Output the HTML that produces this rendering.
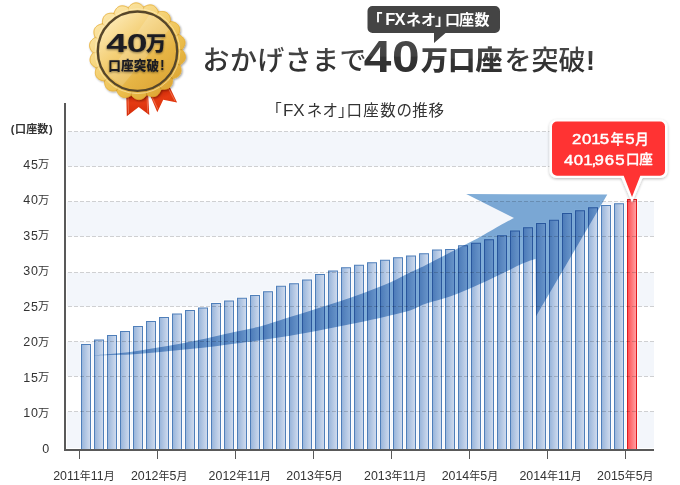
<!DOCTYPE html><html lang="ja"><head><meta charset="utf-8"><title>FXネオ 口座数の推移</title>
<style>html,body{margin:0;padding:0;background:#fff}body{width:680px;height:485px;overflow:hidden}svg{display:block}text{font-family:"Liberation Sans","Noto Sans CJK JP",sans-serif}</style></head><body>
<svg width="680" height="485" viewBox="0 0 680 485">
<defs>
<linearGradient id="bar" x1="0" x2="1" y1="0" y2="0"><stop offset="0" stop-color="#97b4da"/><stop offset="1" stop-color="#d1dcee"/></linearGradient>
<linearGradient id="rbar" x1="0" x2="1" y1="0" y2="0"><stop offset="0" stop-color="#ff4d50"/><stop offset="1" stop-color="#ffa3a6"/></linearGradient>
<linearGradient id="gold" x1="0.12" y1="0.08" x2="0.88" y2="0.95"><stop offset="0" stop-color="#fde9b0"/><stop offset="0.35" stop-color="#f6d57c"/><stop offset="0.7" stop-color="#eabb48"/><stop offset="1" stop-color="#d9a030"/></linearGradient>
<linearGradient id="gold2" x1="0.12" y1="0.08" x2="0.88" y2="0.95"><stop offset="0" stop-color="#fdebb8"/><stop offset="0.35" stop-color="#f4d078"/><stop offset="0.7" stop-color="#e6b444"/><stop offset="1" stop-color="#dca535"/></linearGradient>
<linearGradient id="rib" x1="0" x2="0" y1="0" y2="1"><stop offset="0" stop-color="#b81c00"/><stop offset="0.45" stop-color="#e43a12"/><stop offset="1" stop-color="#d42a08"/></linearGradient>
<linearGradient id="rib2" x1="0.2" x2="0.6" y1="0" y2="1"><stop offset="0" stop-color="#b81c00"/><stop offset="0.5" stop-color="#e43a12"/><stop offset="1" stop-color="#dc3209"/></linearGradient>
<clipPath id="mclip"><circle cx="137.5" cy="51.2" r="38.5"/></clipPath>
<filter id="msh" x="-20%" y="-20%" width="140%" height="150%"><feGaussianBlur in="SourceAlpha" stdDeviation="1.3"/><feOffset dx="0.5" dy="1.2"/><feComponentTransfer><feFuncA type="linear" slope="0.4"/></feComponentTransfer><feMerge><feMergeNode/><feMergeNode in="SourceGraphic"/></feMerge></filter>
<filter id="tsh" x="-10%" y="-20%" width="120%" height="150%"><feGaussianBlur in="SourceAlpha" stdDeviation="0.9"/><feOffset dx="0" dy="0.8"/><feComponentTransfer><feFuncA type="linear" slope="0.45"/></feComponentTransfer><feMerge><feMergeNode/><feMergeNode in="SourceGraphic"/></feMerge></filter>
<filter id="sh" x="-20%" y="-20%" width="140%" height="150%"><feGaussianBlur in="SourceAlpha" stdDeviation="1.5"/><feOffset dy="1"/><feComponentTransfer><feFuncA type="linear" slope="0.28"/></feComponentTransfer><feMerge><feMergeNode/><feMergeNode in="SourceGraphic"/></feMerge></filter>
<linearGradient id="hg" gradientUnits="userSpaceOnUse" x1="0" x2="0" y1="44" y2="73"><stop offset="0" stop-color="#474747"/><stop offset="0.47" stop-color="#424242"/><stop offset="0.53" stop-color="#333"/><stop offset="1" stop-color="#303030"/></linearGradient>
<linearGradient id="hg2" gradientUnits="userSpaceOnUse" x1="0" x2="0" y1="40" y2="72"><stop offset="0" stop-color="#484848"/><stop offset="0.5" stop-color="#424242"/><stop offset="0.54" stop-color="#333"/><stop offset="1" stop-color="#303030"/></linearGradient>
<linearGradient id="cre" gradientUnits="userSpaceOnUse" x1="95" y1="10" x2="180" y2="95"><stop offset="0" stop-color="#d9a030" stop-opacity="0.25"/><stop offset="1" stop-color="#a87410" stop-opacity="0.5"/></linearGradient>
</defs>
<rect x="67" y="131.5" width="587" height="35" fill="#f3f6fb"/>
<rect x="67" y="201.5" width="587" height="35" fill="#f3f6fb"/>
<rect x="67" y="272.5" width="587" height="34" fill="#f3f6fb"/>
<rect x="67" y="341.5" width="587" height="35" fill="#f3f6fb"/>
<rect x="67" y="411.5" width="587" height="36.5" fill="#f3f6fb"/>
<rect x="80" y="343" width="12" height="106" fill="#fff" fill-opacity="0.6"/>
<rect x="81.5" y="344.5" width="9" height="105" fill="url(#bar)" stroke="#4f7fba" stroke-width="1"/>
<rect x="93" y="338.5" width="12" height="110.5" fill="#fff" fill-opacity="0.6"/>
<rect x="94.5" y="340" width="9" height="109.5" fill="url(#bar)" stroke="#4f7fba" stroke-width="1"/>
<rect x="106" y="334" width="12" height="115" fill="#fff" fill-opacity="0.6"/>
<rect x="107.5" y="335.5" width="9" height="114" fill="url(#bar)" stroke="#4f7fba" stroke-width="1"/>
<rect x="119" y="330" width="12" height="119" fill="#fff" fill-opacity="0.6"/>
<rect x="120.5" y="331.5" width="9" height="118" fill="url(#bar)" stroke="#4f7fba" stroke-width="1"/>
<rect x="132" y="325" width="12" height="124" fill="#fff" fill-opacity="0.6"/>
<rect x="133.5" y="326.5" width="9" height="123" fill="url(#bar)" stroke="#4f7fba" stroke-width="1"/>
<rect x="145" y="320" width="12" height="129" fill="#fff" fill-opacity="0.6"/>
<rect x="146.5" y="321.5" width="9" height="128" fill="url(#bar)" stroke="#4f7fba" stroke-width="1"/>
<rect x="158" y="316" width="12" height="133" fill="#fff" fill-opacity="0.6"/>
<rect x="159.5" y="317.5" width="9" height="132" fill="url(#bar)" stroke="#4f7fba" stroke-width="1"/>
<rect x="171" y="312.5" width="12" height="136.5" fill="#fff" fill-opacity="0.6"/>
<rect x="172.5" y="314" width="9" height="135.5" fill="url(#bar)" stroke="#4f7fba" stroke-width="1"/>
<rect x="184" y="309" width="12" height="140" fill="#fff" fill-opacity="0.6"/>
<rect x="185.5" y="310.5" width="9" height="139" fill="url(#bar)" stroke="#4f7fba" stroke-width="1"/>
<rect x="197" y="306.5" width="12" height="142.5" fill="#fff" fill-opacity="0.6"/>
<rect x="198.5" y="308" width="9" height="141.5" fill="url(#bar)" stroke="#4f7fba" stroke-width="1"/>
<rect x="210" y="302" width="12" height="147" fill="#fff" fill-opacity="0.6"/>
<rect x="211.5" y="303.5" width="9" height="146" fill="url(#bar)" stroke="#4f7fba" stroke-width="1"/>
<rect x="223" y="299.5" width="12" height="149.5" fill="#fff" fill-opacity="0.6"/>
<rect x="224.5" y="301" width="9" height="148.5" fill="url(#bar)" stroke="#4f7fba" stroke-width="1"/>
<rect x="236" y="296.75" width="12" height="152.25" fill="#fff" fill-opacity="0.6"/>
<rect x="237.5" y="298.25" width="9" height="151.25" fill="url(#bar)" stroke="#4f7fba" stroke-width="1"/>
<rect x="249" y="294" width="12" height="155" fill="#fff" fill-opacity="0.6"/>
<rect x="250.5" y="295.5" width="9" height="154" fill="url(#bar)" stroke="#4f7fba" stroke-width="1"/>
<rect x="262" y="290.25" width="12" height="158.75" fill="#fff" fill-opacity="0.6"/>
<rect x="263.5" y="291.75" width="9" height="157.75" fill="url(#bar)" stroke="#4f7fba" stroke-width="1"/>
<rect x="275" y="284.75" width="12" height="164.25" fill="#fff" fill-opacity="0.6"/>
<rect x="276.5" y="286.25" width="9" height="163.25" fill="url(#bar)" stroke="#4f7fba" stroke-width="1"/>
<rect x="288" y="282.25" width="12" height="166.75" fill="#fff" fill-opacity="0.6"/>
<rect x="289.5" y="283.75" width="9" height="165.75" fill="url(#bar)" stroke="#4f7fba" stroke-width="1"/>
<rect x="301" y="278.5" width="12" height="170.5" fill="#fff" fill-opacity="0.6"/>
<rect x="302.5" y="280" width="9" height="169.5" fill="url(#bar)" stroke="#4f7fba" stroke-width="1"/>
<rect x="314" y="273" width="12" height="176" fill="#fff" fill-opacity="0.6"/>
<rect x="315.5" y="274.5" width="9" height="175" fill="url(#bar)" stroke="#4f7fba" stroke-width="1"/>
<rect x="327" y="269.5" width="12" height="179.5" fill="#fff" fill-opacity="0.6"/>
<rect x="328.5" y="271" width="9" height="178.5" fill="url(#bar)" stroke="#4f7fba" stroke-width="1"/>
<rect x="340" y="266.25" width="12" height="182.75" fill="#fff" fill-opacity="0.6"/>
<rect x="341.5" y="267.75" width="9" height="181.75" fill="url(#bar)" stroke="#4f7fba" stroke-width="1"/>
<rect x="353" y="263.75" width="12" height="185.25" fill="#fff" fill-opacity="0.6"/>
<rect x="354.5" y="265.25" width="9" height="184.25" fill="url(#bar)" stroke="#4f7fba" stroke-width="1"/>
<rect x="366" y="261.25" width="12" height="187.75" fill="#fff" fill-opacity="0.6"/>
<rect x="367.5" y="262.75" width="9" height="186.75" fill="url(#bar)" stroke="#4f7fba" stroke-width="1"/>
<rect x="379" y="258.75" width="12" height="190.25" fill="#fff" fill-opacity="0.6"/>
<rect x="380.5" y="260.25" width="9" height="189.25" fill="url(#bar)" stroke="#4f7fba" stroke-width="1"/>
<rect x="392" y="256.25" width="12" height="192.75" fill="#fff" fill-opacity="0.6"/>
<rect x="393.5" y="257.75" width="9" height="191.75" fill="url(#bar)" stroke="#4f7fba" stroke-width="1"/>
<rect x="405" y="254.5" width="12" height="194.5" fill="#fff" fill-opacity="0.6"/>
<rect x="406.5" y="256" width="9" height="193.5" fill="url(#bar)" stroke="#4f7fba" stroke-width="1"/>
<rect x="418" y="252.25" width="12" height="196.75" fill="#fff" fill-opacity="0.6"/>
<rect x="419.5" y="253.75" width="9" height="195.75" fill="url(#bar)" stroke="#4f7fba" stroke-width="1"/>
<rect x="431" y="248.5" width="12" height="200.5" fill="#fff" fill-opacity="0.6"/>
<rect x="432.5" y="250" width="9" height="199.5" fill="url(#bar)" stroke="#4f7fba" stroke-width="1"/>
<rect x="444" y="248" width="12" height="201" fill="#fff" fill-opacity="0.6"/>
<rect x="445.5" y="249.5" width="9" height="200" fill="url(#bar)" stroke="#4f7fba" stroke-width="1"/>
<rect x="457" y="244.25" width="12" height="204.75" fill="#fff" fill-opacity="0.6"/>
<rect x="458.5" y="245.75" width="9" height="203.75" fill="url(#bar)" stroke="#4f7fba" stroke-width="1"/>
<rect x="470" y="241.75" width="12" height="207.25" fill="#fff" fill-opacity="0.6"/>
<rect x="471.5" y="243.25" width="9" height="206.25" fill="url(#bar)" stroke="#4f7fba" stroke-width="1"/>
<rect x="483" y="238.25" width="12" height="210.75" fill="#fff" fill-opacity="0.6"/>
<rect x="484.5" y="239.75" width="9" height="209.75" fill="url(#bar)" stroke="#4f7fba" stroke-width="1"/>
<rect x="496" y="234.25" width="12" height="214.75" fill="#fff" fill-opacity="0.6"/>
<rect x="497.5" y="235.75" width="9" height="213.75" fill="url(#bar)" stroke="#4f7fba" stroke-width="1"/>
<rect x="509" y="229.5" width="12" height="219.5" fill="#fff" fill-opacity="0.6"/>
<rect x="510.5" y="231" width="9" height="218.5" fill="url(#bar)" stroke="#4f7fba" stroke-width="1"/>
<rect x="522" y="226.25" width="12" height="222.75" fill="#fff" fill-opacity="0.6"/>
<rect x="523.5" y="227.75" width="9" height="221.75" fill="url(#bar)" stroke="#4f7fba" stroke-width="1"/>
<rect x="535" y="222" width="12" height="227" fill="#fff" fill-opacity="0.6"/>
<rect x="536.5" y="223.5" width="9" height="226" fill="url(#bar)" stroke="#4f7fba" stroke-width="1"/>
<rect x="548" y="218.75" width="12" height="230.25" fill="#fff" fill-opacity="0.6"/>
<rect x="549.5" y="220.25" width="9" height="229.25" fill="url(#bar)" stroke="#4f7fba" stroke-width="1"/>
<rect x="561" y="212" width="12" height="237" fill="#fff" fill-opacity="0.6"/>
<rect x="562.5" y="213.5" width="9" height="236" fill="url(#bar)" stroke="#4f7fba" stroke-width="1"/>
<rect x="574" y="209.25" width="12" height="239.75" fill="#fff" fill-opacity="0.6"/>
<rect x="575.5" y="210.75" width="9" height="238.75" fill="url(#bar)" stroke="#4f7fba" stroke-width="1"/>
<rect x="587" y="206.25" width="12" height="242.75" fill="#fff" fill-opacity="0.6"/>
<rect x="588.5" y="207.75" width="9" height="241.75" fill="url(#bar)" stroke="#4f7fba" stroke-width="1"/>
<rect x="600" y="204" width="12" height="245" fill="#fff" fill-opacity="0.6"/>
<rect x="601.5" y="205.5" width="9" height="244" fill="url(#bar)" stroke="#4f7fba" stroke-width="1"/>
<rect x="613" y="202.25" width="12" height="246.75" fill="#fff" fill-opacity="0.6"/>
<rect x="614.5" y="203.75" width="9" height="245.75" fill="url(#bar)" stroke="#4f7fba" stroke-width="1"/>
<rect x="626" y="198" width="12" height="251" fill="#fff" fill-opacity="0.6"/>
<rect x="627.5" y="199.5" width="9" height="250" fill="url(#rbar)" stroke="#e0191e" stroke-width="1"/>
<line x1="68" x2="654" y1="131.5" y2="131.5" stroke="#000" stroke-opacity="0.17" stroke-width="1" stroke-dasharray="4 2"/>
<line x1="68" x2="654" y1="166.5" y2="166.5" stroke="#000" stroke-opacity="0.17" stroke-width="1" stroke-dasharray="4 2"/>
<line x1="68" x2="654" y1="201.5" y2="201.5" stroke="#000" stroke-opacity="0.17" stroke-width="1" stroke-dasharray="4 2"/>
<line x1="68" x2="654" y1="236.5" y2="236.5" stroke="#000" stroke-opacity="0.17" stroke-width="1" stroke-dasharray="4 2"/>
<line x1="68" x2="654" y1="272.5" y2="272.5" stroke="#000" stroke-opacity="0.17" stroke-width="1" stroke-dasharray="4 2"/>
<line x1="68" x2="654" y1="306.5" y2="306.5" stroke="#000" stroke-opacity="0.17" stroke-width="1" stroke-dasharray="4 2"/>
<line x1="68" x2="654" y1="341.5" y2="341.5" stroke="#000" stroke-opacity="0.17" stroke-width="1" stroke-dasharray="4 2"/>
<line x1="68" x2="654" y1="376.5" y2="376.5" stroke="#000" stroke-opacity="0.17" stroke-width="1" stroke-dasharray="4 2"/>
<line x1="68" x2="654" y1="411.5" y2="411.5" stroke="#000" stroke-opacity="0.17" stroke-width="1" stroke-dasharray="4 2"/>
<path d="M93.8,355.5 C99.8,354.9 119.8,353.2 130.0,352.0 C140.2,350.8 146.7,349.4 155.0,348.0 C163.3,346.6 171.7,345.3 180.0,343.8 C188.3,342.2 196.7,340.5 205.0,338.8 C213.3,337.0 222.5,334.7 230.0,333.0 C237.5,331.3 244.2,330.1 250.0,328.8 C255.8,327.4 258.3,327.0 265.0,325.0 C271.7,323.0 281.7,319.6 290.0,317.0 C298.3,314.4 306.7,311.9 315.0,309.2 C323.3,306.6 331.7,304.0 340.0,301.2 C348.3,298.5 356.7,295.6 365.0,292.5 C373.3,289.4 382.5,285.8 390.0,282.5 C397.5,279.2 404.2,275.3 410.0,272.5 C415.8,269.7 418.3,268.8 425.0,265.5 C431.7,262.2 441.8,256.8 450.0,252.6 C458.2,248.4 466.1,244.5 474.3,240.1 C482.5,235.7 492.4,229.7 499.0,226.0 C505.6,222.3 511.5,219.3 514.0,218.0 L466.2,194 L607.3,194.5 L536,316.3 L535.5,259.0 C533.5,259.7 529.9,260.4 523.8,263.1 C517.7,265.8 507.2,271.1 499.0,275.0 C490.8,278.9 482.5,283.0 474.3,286.6 C466.1,290.2 458.2,293.7 450.0,296.6 C441.8,299.5 431.7,301.7 425.0,304.0 C418.3,306.3 415.8,308.6 410.0,310.5 C404.2,312.4 397.5,313.7 390.0,315.5 C382.5,317.3 373.3,319.5 365.0,321.2 C356.7,323.0 348.3,324.6 340.0,326.2 C331.7,327.9 323.3,329.7 315.0,331.2 C306.7,332.8 298.3,334.4 290.0,335.8 C281.7,337.1 271.7,338.5 265.0,339.5 C258.3,340.5 255.8,341.0 250.0,341.8 C244.2,342.5 237.5,343.3 230.0,344.2 C222.5,345.2 213.3,346.5 205.0,347.5 C196.7,348.5 188.3,349.2 180.0,350.0 C171.7,350.8 163.3,351.8 155.0,352.5 C146.7,353.2 140.2,354.0 130.0,354.5 C119.8,355.0 99.8,355.3 93.8,355.5Z" fill="#80add8" style="mix-blend-mode:multiply"/>
<rect x="64" y="103" width="2" height="348" fill="#595959"/>
<rect x="64" y="449" width="590" height="2" fill="#595959"/>
<rect x="79" y="451" width="1" height="8" fill="#595959"/>
<rect x="157" y="451" width="1" height="8" fill="#595959"/>
<rect x="235" y="451" width="1" height="8" fill="#595959"/>
<rect x="313" y="451" width="1" height="8" fill="#595959"/>
<rect x="391" y="451" width="1" height="8" fill="#595959"/>
<rect x="469" y="451" width="1" height="8" fill="#595959"/>
<rect x="547" y="451" width="1" height="8" fill="#595959"/>
<rect x="625" y="451" width="1" height="8" fill="#595959"/>
<text x="53.2" y="480" font-size="12.4" fill="#333">2011<tspan font-size="11" dy="-0.3">年</tspan><tspan dy="0.3">11</tspan><tspan font-size="11" dy="-0.3">月</tspan></text>
<text x="130.9" y="480" font-size="12.4" fill="#333">2012<tspan font-size="11" dy="-0.3">年</tspan><tspan dy="0.3">5</tspan><tspan font-size="11" dy="-0.3">月</tspan></text>
<text x="208.6" y="480" font-size="12.4" fill="#333">2012<tspan font-size="11" dy="-0.3">年</tspan><tspan dy="0.3">11</tspan><tspan font-size="11" dy="-0.3">月</tspan></text>
<text x="286.3" y="480" font-size="12.4" fill="#333">2013<tspan font-size="11" dy="-0.3">年</tspan><tspan dy="0.3">5</tspan><tspan font-size="11" dy="-0.3">月</tspan></text>
<text x="364" y="480" font-size="12.4" fill="#333">2013<tspan font-size="11" dy="-0.3">年</tspan><tspan dy="0.3">11</tspan><tspan font-size="11" dy="-0.3">月</tspan></text>
<text x="441.7" y="480" font-size="12.4" fill="#333">2014<tspan font-size="11" dy="-0.3">年</tspan><tspan dy="0.3">5</tspan><tspan font-size="11" dy="-0.3">月</tspan></text>
<text x="519.4" y="480" font-size="12.4" fill="#333">2014<tspan font-size="11" dy="-0.3">年</tspan><tspan dy="0.3">11</tspan><tspan font-size="11" dy="-0.3">月</tspan></text>
<text x="597.1" y="480" font-size="12.4" fill="#333">2015<tspan font-size="11" dy="-0.3">年</tspan><tspan dy="0.3">5</tspan><tspan font-size="11" dy="-0.3">月</tspan></text>
<text x="23.2 30.9" y="168.5" font-size="12.5" fill="#333">45<tspan x="38" dy="-0.3" font-size="11.3">万</tspan></text>
<text x="23.2 30.9" y="204" font-size="12.5" fill="#333">40<tspan x="38" dy="-0.3" font-size="11.3">万</tspan></text>
<text x="23.2 30.9" y="239.5" font-size="12.5" fill="#333">35<tspan x="38" dy="-0.3" font-size="11.3">万</tspan></text>
<text x="23.2 30.9" y="275" font-size="12.5" fill="#333">30<tspan x="38" dy="-0.3" font-size="11.3">万</tspan></text>
<text x="23.2 30.9" y="310.5" font-size="12.5" fill="#333">25<tspan x="38" dy="-0.3" font-size="11.3">万</tspan></text>
<text x="23.2 30.9" y="346" font-size="12.5" fill="#333">20<tspan x="38" dy="-0.3" font-size="11.3">万</tspan></text>
<text x="23.2 30.9" y="381.5" font-size="12.5" fill="#333">15<tspan x="38" dy="-0.3" font-size="11.3">万</tspan></text>
<text x="23.2 30.9" y="417" font-size="12.5" fill="#333">10<tspan x="38" dy="-0.3" font-size="11.3">万</tspan></text>
<text x="49.3" y="453" font-size="12.5" fill="#333" text-anchor="end">0</text>
<text x="10.8 15 26.3 37.2 49" y="133" font-size="11" font-weight="700" fill="#333">(口座数)</text>
<text y="116" x="266.3 283.1 293.3 306.7 322.5 338 346.5 363.3 380.2 396.5 412.3 428.5" font-size="15.5" fill="#333">「<tspan font-size="17">FX</tspan>ネオ」口座数の推移</text>
<text x="202.5" y="69.5" font-size="27" font-weight="500" fill="url(#hg)" letter-spacing="0.4">おかげさまで</text>
<text transform="scale(1.14,1)" x="319.12 343.77" y="72" font-size="43.5" font-weight="700" fill="url(#hg2)">40</text>
<text x="421" y="69.5" font-size="27" font-weight="900" fill="url(#hg)" letter-spacing="0.2">万口座</text>
<text x="504.5" y="69.5" font-size="27" font-weight="500" fill="url(#hg)" letter-spacing="0">を突破<tspan font-weight="700" dx="0.5">!</tspan></text>
<path d="M372.5,6 H495 a5,5 0 0 1 5,5 V28 a5,5 0 0 1 -5,5 H445.5 L434,43 V33 H372.5 a5,5 0 0 1 -5,-5 V11 a5,5 0 0 1 5,-5 Z" fill="#444"/>
<text y="25" x="367.5 385.2 394.4 406 421 435 445 459 474.5" font-size="15" font-weight="700" fill="#fff">「<tspan font-size="16.5">FX</tspan>ネオ」口座数</text>
<g filter="url(#sh)"><path d="M556.5,119.5 H660.5 a7,7 0 0 1 7,7 V171 a7,7 0 0 1 -7,7 H642.5 L632,202.5 L621.5,178 H556.5 a7,7 0 0 1 -7,-7 V126.5 a7,7 0 0 1 7,-7 Z" fill="#fff"/></g>
<path d="M557,121.5 H660 a5,5 0 0 1 5,5 V170.7 a5,5 0 0 1 -5,5 H640.3 L632,197 L623.7,175.7 H557 a5,5 0 0 1 -5,-5 V126.5 a5,5 0 0 1 5,-5 Z" fill="#ff3333"/>
<g font-weight="400" fill="#fff" stroke="#fff" stroke-width="0.45" stroke-linejoin="round">
<text transform="scale(1.2,1)" y="144.4" x="476.67 485.08 492.67 499.75" font-size="14">2015</text>
<text y="144" x="610.4" font-size="13.5" font-weight="500" stroke-width="0.3">年</text>
<text transform="scale(1.2,1)" y="144.4" x="521.08" font-size="14">5</text>
<text y="144" x="635.2" font-size="13.5" font-weight="500" stroke-width="0.3">月</text>
<text transform="scale(1.2,1)" y="164.6" x="469.92 478.17 486.00 492.92 495.50 503.92 512.67" font-size="14">401,965</text>
<text y="164.2" x="625.9 639.3" font-size="13.5" font-weight="500" stroke-width="0.3">口座</text>
</g>
<path d="M126.2,92 L148,92 L149.3,115 L138.7,107 L126.8,116.2 Z" fill="url(#rib)"/>
<path d="M128,96 L128.5,113.5 M147,96 L147.8,112.5" stroke="#ffb59a" stroke-opacity="0.75" stroke-width="0.6" fill="none"/>
<path d="M150,95 L169.2,86 L177.1,102.6 L163.2,99.7 L157.3,112.3 Z" fill="url(#rib2)"/>
<path d="M152.3,97.5 L158,109.5 M168.5,88.5 L175,101" stroke="#ffb59a" stroke-opacity="0.75" stroke-width="0.6" fill="none"/>
<g filter="url(#msh)"><path d="M183.29,51.20 L183.58,51.60 L183.86,52.01 L184.11,52.42 L184.35,52.84 L184.57,53.26 L184.76,53.68 L184.94,54.10 L185.09,54.53 L185.22,54.96 L185.32,55.38 L185.40,55.81 L185.46,56.24 L185.49,56.67 L185.50,57.09 L185.47,57.52 L185.43,57.94 L185.36,58.35 L185.26,58.76 L185.14,59.17 L184.99,59.57 L184.82,59.97 L184.62,60.36 L184.40,60.74 L184.16,61.12 L183.90,61.49 L183.62,61.85 L183.31,62.20 L182.99,62.54 L182.64,62.88 L182.29,63.20 L181.91,63.52 L181.52,63.82 L181.11,64.12 L180.68,64.40 L180.23,64.67 L179.73,64.92 L179.99,65.42 L180.19,65.90 L180.37,66.38 L180.53,66.86 L180.67,67.34 L180.79,67.82 L180.89,68.29 L180.97,68.76 L181.03,69.23 L181.07,69.69 L181.08,70.15 L181.08,70.60 L181.06,71.05 L181.01,71.49 L180.94,71.92 L180.84,72.34 L180.73,72.75 L180.59,73.15 L180.42,73.54 L180.23,73.92 L180.02,74.29 L179.79,74.64 L179.54,74.98 L179.26,75.31 L178.97,75.63 L178.65,75.92 L178.31,76.21 L177.96,76.48 L177.58,76.74 L177.19,76.98 L176.79,77.20 L176.36,77.41 L175.93,77.61 L175.48,77.79 L175.02,77.96 L174.54,78.11 L174.06,78.25 L173.56,78.37 L173.05,78.48 L172.49,78.54 L172.56,79.09 L172.59,79.62 L172.59,80.13 L172.58,80.63 L172.54,81.13 L172.49,81.62 L172.42,82.10 L172.34,82.57 L172.23,83.03 L172.11,83.48 L171.97,83.91 L171.82,84.34 L171.64,84.75 L171.44,85.14 L171.23,85.53 L171.00,85.89 L170.75,86.24 L170.48,86.57 L170.19,86.88 L169.89,87.17 L169.56,87.44 L169.22,87.69 L168.87,87.93 L168.50,88.14 L168.11,88.33 L167.71,88.51 L167.30,88.66 L166.87,88.79 L166.43,88.90 L165.98,89.00 L165.52,89.07 L165.06,89.13 L164.58,89.16 L164.09,89.18 L163.60,89.18 L163.11,89.16 L162.60,89.13 L162.09,89.07 L161.57,88.99 L161.03,88.85 L160.91,89.40 L160.76,89.90 L160.58,90.39 L160.40,90.86 L160.19,91.31 L159.98,91.75 L159.75,92.18 L159.51,92.59 L159.25,92.99 L158.99,93.37 L158.71,93.73 L158.41,94.08 L158.11,94.40 L157.79,94.71 L157.46,94.99 L157.11,95.25 L156.76,95.49 L156.39,95.71 L156.02,95.91 L155.63,96.08 L155.23,96.22 L154.83,96.34 L154.42,96.44 L153.99,96.52 L153.56,96.56 L153.13,96.59 L152.69,96.59 L152.24,96.57 L151.79,96.53 L151.34,96.46 L150.88,96.37 L150.42,96.26 L149.96,96.13 L149.50,95.99 L149.04,95.82 L148.58,95.63 L148.12,95.42 L147.66,95.20 L147.20,94.94 L146.73,94.63 L146.43,95.11 L146.12,95.52 L145.79,95.92 L145.45,96.29 L145.11,96.65 L144.75,96.99 L144.39,97.32 L144.02,97.62 L143.65,97.91 L143.27,98.18 L142.88,98.42 L142.49,98.64 L142.09,98.85 L141.68,99.02 L141.28,99.18 L140.86,99.31 L140.45,99.41 L140.03,99.49 L139.61,99.54 L139.19,99.57 L138.77,99.57 L138.34,99.55 L137.92,99.50 L137.50,99.42 L137.08,99.32 L136.66,99.20 L136.25,99.05 L135.84,98.88 L135.43,98.68 L135.02,98.46 L134.62,98.22 L134.23,97.97 L133.84,97.69 L133.46,97.39 L133.08,97.07 L132.71,96.74 L132.35,96.39 L132.00,96.02 L131.65,95.62 L131.32,95.17 L130.88,95.51 L130.44,95.80 L129.99,96.06 L129.55,96.29 L129.10,96.51 L128.65,96.71 L128.20,96.89 L127.75,97.06 L127.30,97.20 L126.85,97.32 L126.41,97.41 L125.96,97.49 L125.52,97.54 L125.08,97.57 L124.64,97.57 L124.21,97.56 L123.78,97.51 L123.36,97.44 L122.95,97.35 L122.54,97.23 L122.15,97.09 L121.76,96.92 L121.38,96.73 L121.01,96.52 L120.65,96.28 L120.30,96.02 L119.96,95.73 L119.63,95.43 L119.31,95.11 L119.01,94.77 L118.71,94.40 L118.43,94.03 L118.16,93.63 L117.91,93.22 L117.66,92.80 L117.43,92.36 L117.21,91.90 L117.00,91.43 L116.81,90.94 L116.66,90.40 L116.12,90.58 L115.61,90.69 L115.10,90.78 L114.60,90.86 L114.11,90.91 L113.62,90.94 L113.14,90.96 L112.66,90.96 L112.19,90.93 L111.72,90.89 L111.27,90.83 L110.82,90.75 L110.39,90.65 L109.97,90.52 L109.55,90.38 L109.16,90.21 L108.77,90.03 L108.40,89.82 L108.04,89.59 L107.70,89.34 L107.38,89.07 L107.07,88.78 L106.78,88.47 L106.50,88.14 L106.25,87.79 L106.01,87.43 L105.78,87.05 L105.58,86.65 L105.39,86.24 L105.22,85.81 L105.07,85.37 L104.93,84.92 L104.82,84.46 L104.71,83.99 L104.63,83.50 L104.56,83.01 L104.51,82.51 L104.48,81.99 L104.47,81.47 L104.50,80.91 L103.94,80.89 L103.42,80.82 L102.92,80.74 L102.42,80.63 L101.94,80.51 L101.47,80.38 L101.01,80.23 L100.56,80.06 L100.12,79.88 L99.70,79.68 L99.30,79.47 L98.91,79.24 L98.53,79.00 L98.18,78.73 L97.84,78.46 L97.52,78.17 L97.22,77.86 L96.95,77.54 L96.69,77.20 L96.45,76.85 L96.24,76.48 L96.05,76.11 L95.88,75.71 L95.74,75.31 L95.61,74.90 L95.51,74.47 L95.44,74.04 L95.38,73.60 L95.34,73.15 L95.33,72.69 L95.34,72.22 L95.37,71.75 L95.41,71.27 L95.48,70.79 L95.56,70.31 L95.67,69.82 L95.79,69.34 L95.94,68.84 L96.11,68.35 L96.33,67.83 L95.81,67.62 L95.35,67.38 L94.90,67.13 L94.47,66.86 L94.06,66.58 L93.66,66.30 L93.28,66.00 L92.91,65.69 L92.57,65.37 L92.24,65.04 L91.93,64.70 L91.64,64.35 L91.38,63.99 L91.13,63.62 L90.91,63.25 L90.71,62.87 L90.53,62.48 L90.38,62.08 L90.26,61.67 L90.16,61.26 L90.08,60.85 L90.03,60.43 L90.01,60.00 L90.01,59.57 L90.04,59.14 L90.09,58.71 L90.16,58.27 L90.26,57.84 L90.38,57.40 L90.52,56.97 L90.69,56.53 L90.88,56.10 L91.08,55.67 L91.31,55.24 L91.56,54.82 L91.82,54.39 L92.10,53.98 L92.41,53.56 L92.74,53.15 L93.13,52.75 L92.71,52.37 L92.35,51.99 L92.02,51.60 L91.71,51.20 L91.42,50.80 L91.14,50.39 L90.89,49.98 L90.65,49.56 L90.43,49.14 L90.24,48.72 L90.06,48.30 L89.91,47.87 L89.78,47.44 L89.68,47.02 L89.60,46.59 L89.54,46.16 L89.51,45.73 L89.50,45.31 L89.53,44.88 L89.57,44.46 L89.64,44.05 L89.74,43.64 L89.86,43.23 L90.01,42.83 L90.18,42.43 L90.38,42.04 L90.60,41.66 L90.84,41.28 L91.10,40.91 L91.38,40.55 L91.69,40.20 L92.01,39.86 L92.36,39.52 L92.71,39.20 L93.09,38.88 L93.48,38.58 L93.89,38.28 L94.32,38.00 L94.77,37.73 L95.27,37.48 L95.01,36.98 L94.81,36.50 L94.63,36.02 L94.47,35.54 L94.33,35.06 L94.21,34.58 L94.11,34.11 L94.03,33.64 L93.97,33.17 L93.93,32.71 L93.92,32.25 L93.92,31.80 L93.94,31.35 L93.99,30.91 L94.06,30.48 L94.16,30.06 L94.27,29.65 L94.41,29.25 L94.58,28.86 L94.77,28.48 L94.98,28.11 L95.21,27.76 L95.46,27.42 L95.74,27.09 L96.03,26.77 L96.35,26.48 L96.69,26.19 L97.04,25.92 L97.42,25.66 L97.81,25.42 L98.21,25.20 L98.64,24.99 L99.07,24.79 L99.52,24.61 L99.98,24.44 L100.46,24.29 L100.94,24.15 L101.44,24.03 L101.95,23.92 L102.51,23.86 L102.44,23.31 L102.41,22.78 L102.41,22.27 L102.42,21.77 L102.46,21.27 L102.51,20.78 L102.58,20.30 L102.66,19.83 L102.77,19.37 L102.89,18.92 L103.03,18.49 L103.18,18.06 L103.36,17.65 L103.56,17.26 L103.77,16.87 L104.00,16.51 L104.25,16.16 L104.52,15.83 L104.81,15.52 L105.11,15.23 L105.44,14.96 L105.78,14.71 L106.13,14.47 L106.50,14.26 L106.89,14.07 L107.29,13.89 L107.70,13.74 L108.13,13.61 L108.57,13.50 L109.02,13.40 L109.48,13.33 L109.94,13.27 L110.42,13.24 L110.91,13.22 L111.40,13.22 L111.89,13.24 L112.40,13.27 L112.91,13.33 L113.43,13.41 L113.97,13.55 L114.09,13.00 L114.24,12.50 L114.42,12.01 L114.60,11.54 L114.81,11.09 L115.02,10.65 L115.25,10.22 L115.49,9.81 L115.75,9.41 L116.01,9.03 L116.29,8.67 L116.59,8.32 L116.89,8.00 L117.21,7.69 L117.54,7.41 L117.89,7.15 L118.24,6.91 L118.61,6.69 L118.98,6.49 L119.37,6.32 L119.77,6.18 L120.17,6.06 L120.58,5.96 L121.01,5.88 L121.44,5.84 L121.87,5.81 L122.31,5.81 L122.76,5.83 L123.21,5.87 L123.66,5.94 L124.12,6.03 L124.58,6.14 L125.04,6.27 L125.50,6.41 L125.96,6.58 L126.42,6.77 L126.88,6.98 L127.34,7.20 L127.80,7.46 L128.27,7.77 L128.57,7.29 L128.88,6.88 L129.21,6.48 L129.55,6.11 L129.89,5.75 L130.25,5.41 L130.61,5.08 L130.98,4.78 L131.35,4.49 L131.73,4.22 L132.12,3.98 L132.51,3.76 L132.91,3.55 L133.32,3.38 L133.72,3.22 L134.14,3.09 L134.55,2.99 L134.97,2.91 L135.39,2.86 L135.81,2.83 L136.23,2.83 L136.66,2.85 L137.08,2.90 L137.50,2.98 L137.92,3.08 L138.34,3.20 L138.75,3.35 L139.16,3.52 L139.57,3.72 L139.98,3.94 L140.38,4.18 L140.77,4.43 L141.16,4.71 L141.54,5.01 L141.92,5.33 L142.29,5.66 L142.65,6.01 L143.00,6.38 L143.35,6.78 L143.68,7.23 L144.12,6.89 L144.56,6.60 L145.01,6.34 L145.45,6.11 L145.90,5.89 L146.35,5.69 L146.80,5.51 L147.25,5.34 L147.70,5.20 L148.15,5.08 L148.59,4.99 L149.04,4.91 L149.48,4.86 L149.92,4.83 L150.36,4.83 L150.79,4.84 L151.22,4.89 L151.64,4.96 L152.05,5.05 L152.46,5.17 L152.85,5.31 L153.24,5.48 L153.62,5.67 L153.99,5.88 L154.35,6.12 L154.70,6.38 L155.04,6.67 L155.37,6.97 L155.69,7.29 L155.99,7.63 L156.29,8.00 L156.57,8.37 L156.84,8.77 L157.09,9.18 L157.34,9.60 L157.57,10.04 L157.79,10.50 L158.00,10.97 L158.19,11.46 L158.34,12.00 L158.88,11.82 L159.39,11.71 L159.90,11.62 L160.40,11.54 L160.89,11.49 L161.38,11.46 L161.86,11.44 L162.34,11.44 L162.81,11.47 L163.28,11.51 L163.73,11.57 L164.18,11.65 L164.61,11.75 L165.03,11.88 L165.45,12.02 L165.84,12.19 L166.23,12.37 L166.60,12.58 L166.96,12.81 L167.30,13.06 L167.62,13.33 L167.93,13.62 L168.22,13.93 L168.50,14.26 L168.75,14.61 L168.99,14.97 L169.22,15.35 L169.42,15.75 L169.61,16.16 L169.78,16.59 L169.93,17.03 L170.07,17.48 L170.18,17.94 L170.29,18.41 L170.37,18.90 L170.44,19.39 L170.49,19.89 L170.52,20.41 L170.53,20.93 L170.50,21.49 L171.06,21.51 L171.58,21.58 L172.08,21.66 L172.58,21.77 L173.06,21.89 L173.53,22.02 L173.99,22.17 L174.44,22.34 L174.88,22.52 L175.30,22.72 L175.70,22.93 L176.09,23.16 L176.47,23.40 L176.82,23.67 L177.16,23.94 L177.48,24.23 L177.78,24.54 L178.05,24.86 L178.31,25.20 L178.55,25.55 L178.76,25.92 L178.95,26.29 L179.12,26.69 L179.26,27.09 L179.39,27.50 L179.49,27.93 L179.56,28.36 L179.62,28.80 L179.66,29.25 L179.67,29.71 L179.66,30.18 L179.63,30.65 L179.59,31.13 L179.52,31.61 L179.44,32.09 L179.33,32.58 L179.21,33.06 L179.06,33.56 L178.89,34.05 L178.67,34.57 L179.19,34.78 L179.65,35.02 L180.10,35.27 L180.53,35.54 L180.94,35.82 L181.34,36.10 L181.72,36.40 L182.09,36.71 L182.43,37.03 L182.76,37.36 L183.07,37.70 L183.36,38.05 L183.62,38.41 L183.87,38.78 L184.09,39.15 L184.29,39.53 L184.47,39.92 L184.62,40.32 L184.74,40.73 L184.84,41.14 L184.92,41.55 L184.97,41.97 L184.99,42.40 L184.99,42.83 L184.96,43.26 L184.91,43.69 L184.84,44.13 L184.74,44.56 L184.62,45.00 L184.48,45.43 L184.31,45.87 L184.12,46.30 L183.92,46.73 L183.69,47.16 L183.44,47.58 L183.18,48.01 L182.90,48.42 L182.59,48.84 L182.26,49.25 L181.87,49.65 L182.29,50.03 L182.65,50.41 L182.98,50.80Z" fill="url(#gold)" stroke="#e6ad30" stroke-width="0.9" stroke-linejoin="round"/></g>
<path d="M143.71,7.03 L143.29,10.00 M158.44,11.82 L157.03,14.47 M170.64,21.36 L168.41,23.36 M178.85,34.49 L176.07,35.62 M182.07,49.64 L179.07,49.75 M179.92,64.98 L177.06,64.06 M172.65,78.66 L170.28,76.81 M161.13,89.02 L159.54,86.48 M146.77,94.83 L146.15,91.89 M131.29,95.37 L131.71,92.40 M116.56,90.58 L117.97,87.93 M104.36,81.04 L106.59,79.04 M96.15,67.91 L98.93,66.78 M92.93,52.76 L95.93,52.65 M95.08,37.42 L97.94,38.34 M102.35,23.74 L104.72,25.59 M113.87,13.38 L115.46,15.92 M128.23,7.57 L128.85,10.51 " stroke="url(#cre)" stroke-width="1.2" stroke-linecap="round" fill="none"/>
<circle cx="137.5" cy="51.2" r="42.3" fill="none" stroke="#fff3c8" stroke-opacity="0.55" stroke-width="1"/>
<circle cx="137.5" cy="51.2" r="39.7" fill="url(#gold2)" stroke="#56462a" stroke-width="2.4"/>
<path d="M108,75 L150,14 L172,26 L122,86 Z" fill="#fff" fill-opacity="0.16" clip-path="url(#mclip)"/>
<g filter="url(#tsh)" fill="#1d1d21" font-weight="700">
<text transform="translate(106.2,52.3) scale(1.43,1)" font-size="26.2" x="0 14.3">40</text>
<text transform="translate(146,51) scale(1.0,1)" font-size="20.3" font-weight="900">万</text>
<text y="70.2" x="108.3 121 133.8 146.4 160.1" font-size="12.6" font-weight="900">口座突破<tspan font-size="14">!</tspan></text>
</g>
</svg></body></html>
